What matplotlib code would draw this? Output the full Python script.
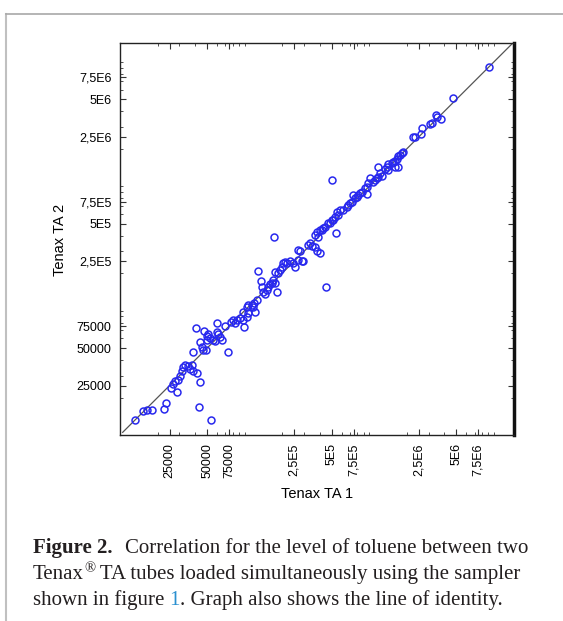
import matplotlib
matplotlib.use('Agg')
import matplotlib.pyplot as plt
import matplotlib.ticker as mticker
from matplotlib.lines import Line2D

# toluene level read from the two Tenax TA tubes
tenax1 = [1.32e4, 1.53e4, 1.65e4, 1.81e4, 2.26e4, 2.34e4, 2.57e4, 2.67e4, 2.87e4, 2.77e4,
          2.92e4, 4.39e4, 4.31e4, 5.38e4, 3.03e4, 3.15e4, 3.21e4, 3.33e4, 3.52e4, 3.65e4,
          3.78e4, 3.86e4, 4.15e4, 3.86e4, 4.07e4, 4.73e4, 4.39e4, 4.56e4, 4.64e4, 4.91e4,
          5.00e4, 5.09e4, 5.00e4, 5.28e4, 5.58e4, 5.79e4, 6.01e4, 6.01e4, 6.12e4, 6.35e4,
          6.59e4, 7.36e4, 6.97e4, 7.79e4, 8.09e4, 8.39e4, 8.71e4, 9.20e4, 9.72e4, 9.91e4,
          1.05e5, 1.07e5, 1.07e5, 1.15e5, 1.19e5, 1.17e5, 1.21e5, 1.28e5, 1.36e5, 1.38e5,
          1.41e5, 1.46e5, 1.52e5, 1.55e5, 1.60e5, 1.66e5, 1.69e5, 1.76e5, 1.82e5, 1.76e5,
          2.00e5, 2.04e5, 2.11e5, 2.19e5, 2.32e5, 2.45e5, 2.55e5, 2.69e5, 1.86e5, 1.93e5,
          1.73e5, 2.69e5, 2.79e5, 2.90e5, 2.95e5, 3.24e5, 3.36e5, 3.48e5, 3.68e5, 3.82e5,
          4.04e5, 4.52e5, 3.68e5, 3.89e5, 3.82e5, 4.04e5, 4.19e5, 4.28e5, 4.44e5, 4.69e5,
          4.86e5, 5.05e5, 5.14e5, 5.33e5, 5.53e5, 5.64e5, 5.43e5, 5.85e5, 6.18e5, 6.65e5,
          6.78e5, 7.03e5, 7.29e5, 7.43e5, 7.71e5, 8.01e5, 8.17e5, 8.47e5, 8.79e5, 9.29e5,
          9.64e5, 9.64e5, 9.82e5, 1.02e6, 1.08e6, 1.12e6, 1.16e6, 1.18e6, 1.22e6, 1.18e6,
          1.27e6, 1.34e6, 1.40e6, 1.42e6, 1.42e6, 1.53e6, 1.56e6, 1.62e6, 1.62e6, 1.68e6,
          1.71e6, 1.71e6, 1.77e6, 1.84e6, 1.87e6, 2.25e6, 2.34e6, 2.62e6, 2.67e6, 3.09e6,
          3.21e6, 3.45e6, 3.52e6, 3.78e6, 4.73e6, 9.20e6, 5.05e5, 1.26e5, 9.72e4, 1.05e5]
tenax2 = [1.32e4, 1.56e4, 1.58e4, 1.58e4, 1.61e4, 1.80e4, 2.38e4, 2.56e4, 2.21e4, 2.70e4,
          2.75e4, 2.65e4, 1.67e4, 1.32e4, 2.96e4, 3.25e4, 3.50e4, 3.63e4, 3.56e4, 3.37e4,
          3.63e4, 3.25e4, 3.13e4, 4.61e4, 7.31e4, 6.92e4, 5.55e4, 5.06e4, 4.79e4, 4.79e4,
          6.31e4, 6.43e4, 5.86e4, 6.08e4, 5.86e4, 5.65e4, 8.02e4, 6.79e4, 6.43e4, 6.19e4,
          5.86e4, 4.61e4, 7.59e4, 8.17e4, 8.47e4, 8.02e4, 8.47e4, 8.79e4, 8.47e4, 7.45e4,
          8.95e4, 9.64e4, 1.12e5, 1.12e5, 1.16e5, 1.06e5, 9.82e4, 2.09e5, 1.74e5, 1.56e5,
          1.42e5, 1.37e5, 1.47e5, 1.56e5, 1.64e5, 1.67e5, 1.77e5, 1.67e5, 1.42e5, 2.05e5,
          2.25e5, 2.42e5, 2.47e5, 2.42e5, 2.51e5, 2.42e5, 2.25e5, 3.08e5, 2.01e5, 2.13e5,
          3.91e5, 2.56e5, 3.02e5, 2.51e5, 2.51e5, 3.37e5, 3.50e5, 3.31e5, 3.25e5, 3.02e5,
          2.91e5, 1.56e5, 4.06e5, 3.91e5, 4.29e5, 4.45e5, 4.45e5, 4.61e5, 4.70e5, 5.06e5,
          5.06e5, 5.35e5, 5.35e5, 5.65e5, 6.19e5, 5.86e5, 4.21e5, 6.43e5, 6.43e5, 6.79e5,
          7.05e5, 7.31e5, 7.45e5, 8.47e5, 8.02e5, 8.17e5, 8.47e5, 8.79e5, 8.95e5, 9.64e5,
          9.82e5, 8.63e5, 1.06e6, 1.16e6, 1.08e6, 1.12e6, 1.16e6, 1.18e6, 1.29e6, 1.42e6,
          1.22e6, 1.39e6, 1.42e6, 1.50e6, 1.34e6, 1.53e6, 1.56e6, 1.61e6, 1.42e6, 1.67e6,
          1.74e6, 1.42e6, 1.77e6, 1.84e6, 1.87e6, 2.51e6, 2.47e6, 2.61e6, 2.96e6, 3.19e6,
          3.25e6, 3.77e6, 3.63e6, 3.50e6, 5.15e6, 9.12e6, 1.12e6, 1.22e5, 9.82e4, 1.06e5]

identity = [1.05e4, 1.45e7]
tick_vals = [25000, 50000, 75000, 2.5e5, 5e5, 7.5e5, 2.5e6, 5e6, 7.5e6]
tick_labels = ['25000', '50000', '75000', '2,5E5', '5E5', '7,5E5', '2,5E6', '5E6', '7,5E6']

W, H = 563, 621
fig = plt.figure(figsize=(W / 100., H / 100.), dpi=100)
ax = fig.add_axes([120. / W, 1 - 435. / H, 394. / W, 392. / H])

ax.plot(identity, identity, color='#555555', lw=0.9, zorder=1)
ax.plot(tenax1, tenax2, 'o', mfc='none', mec='#2828ee', ms=5, mew=1.1, zorder=2)

ax.set_xscale('log')
ax.set_yscale('log')
ax.set_xlim(1e4, 1.45e7)
ax.set_ylim(1e4, 1.42e7)

sans = 'Liberation Sans'
for axis in (ax.xaxis, ax.yaxis):
    axis.set_major_locator(mticker.FixedLocator(tick_vals))
    axis.set_major_formatter(mticker.FixedFormatter(tick_labels))
    axis.set_minor_locator(mticker.LogLocator(base=10, subs=range(1, 10)))
    axis.set_minor_formatter(mticker.NullFormatter())
ax.tick_params(which='both', direction='in', top=True, right=True, color='#333333')
ax.tick_params(which='major', length=4, width=0.8, labelsize=9, pad=6)
ax.tick_params(which='minor', length=2.5, width=0.6)
for lab in ax.get_xticklabels():
    lab.set_rotation(90)
    lab.set_fontfamily(sans)
for lab in ax.get_yticklabels():
    lab.set_fontfamily(sans)
for side in ('left', 'top', 'bottom'):
    ax.spines[side].set_linewidth(1.0)
    ax.spines[side].set_color('#222222')
ax.spines['right'].set_linewidth(2.5)
ax.spines['right'].set_color('#111111')

fig.text(317. / W, 1 - 494. / H, 'Tenax TA 1', ha='center', va='center', fontsize=10.5, family=sans)
fig.text(60. / W, 1 - 240. / H, 'Tenax TA 2', ha='center', va='center', rotation=90, fontsize=10.5, family=sans)

# page frame
fig.add_artist(Line2D([6. / W, 6. / W], [0, 1 - 14. / H], color='#c0c0c0', lw=1.5))
fig.add_artist(Line2D([6. / W, 1], [1 - 14. / H, 1 - 14. / H], color='#a8a8a8', lw=1.2))

# caption, built piece by piece
serif = 'Liberation Serif'
capsize = 15
ink = '#231f20'
renderer = fig.canvas.get_renderer()

def put(x, y, s, **kw):
    t = fig.text(x / W, 1 - y / H, s, va='baseline', ha='left', family=serif, color=kw.pop('color', ink), **kw)
    bb = t.get_window_extent(renderer=renderer)
    return bb.x1

x = put(33, 553, 'Figure 2.', fontsize=capsize, weight='bold')
put(x + 13, 553, 'Correlation for the level of toluene between two', fontsize=capsize)
x = put(33, 579, 'Tenax', fontsize=capsize)
x = put(x, 572, '\u00ae', fontsize=capsize * 0.7)
put(x, 579, ' TA tubes loaded simultaneously using the sampler', fontsize=capsize)
x = put(33, 605, 'shown in figure ', fontsize=capsize)
x = put(x, 605, '1', fontsize=capsize, color='#2a90d0')
put(x, 605, '. Graph also shows the line of identity.', fontsize=capsize)

plt.savefig('out.png', dpi=100)
